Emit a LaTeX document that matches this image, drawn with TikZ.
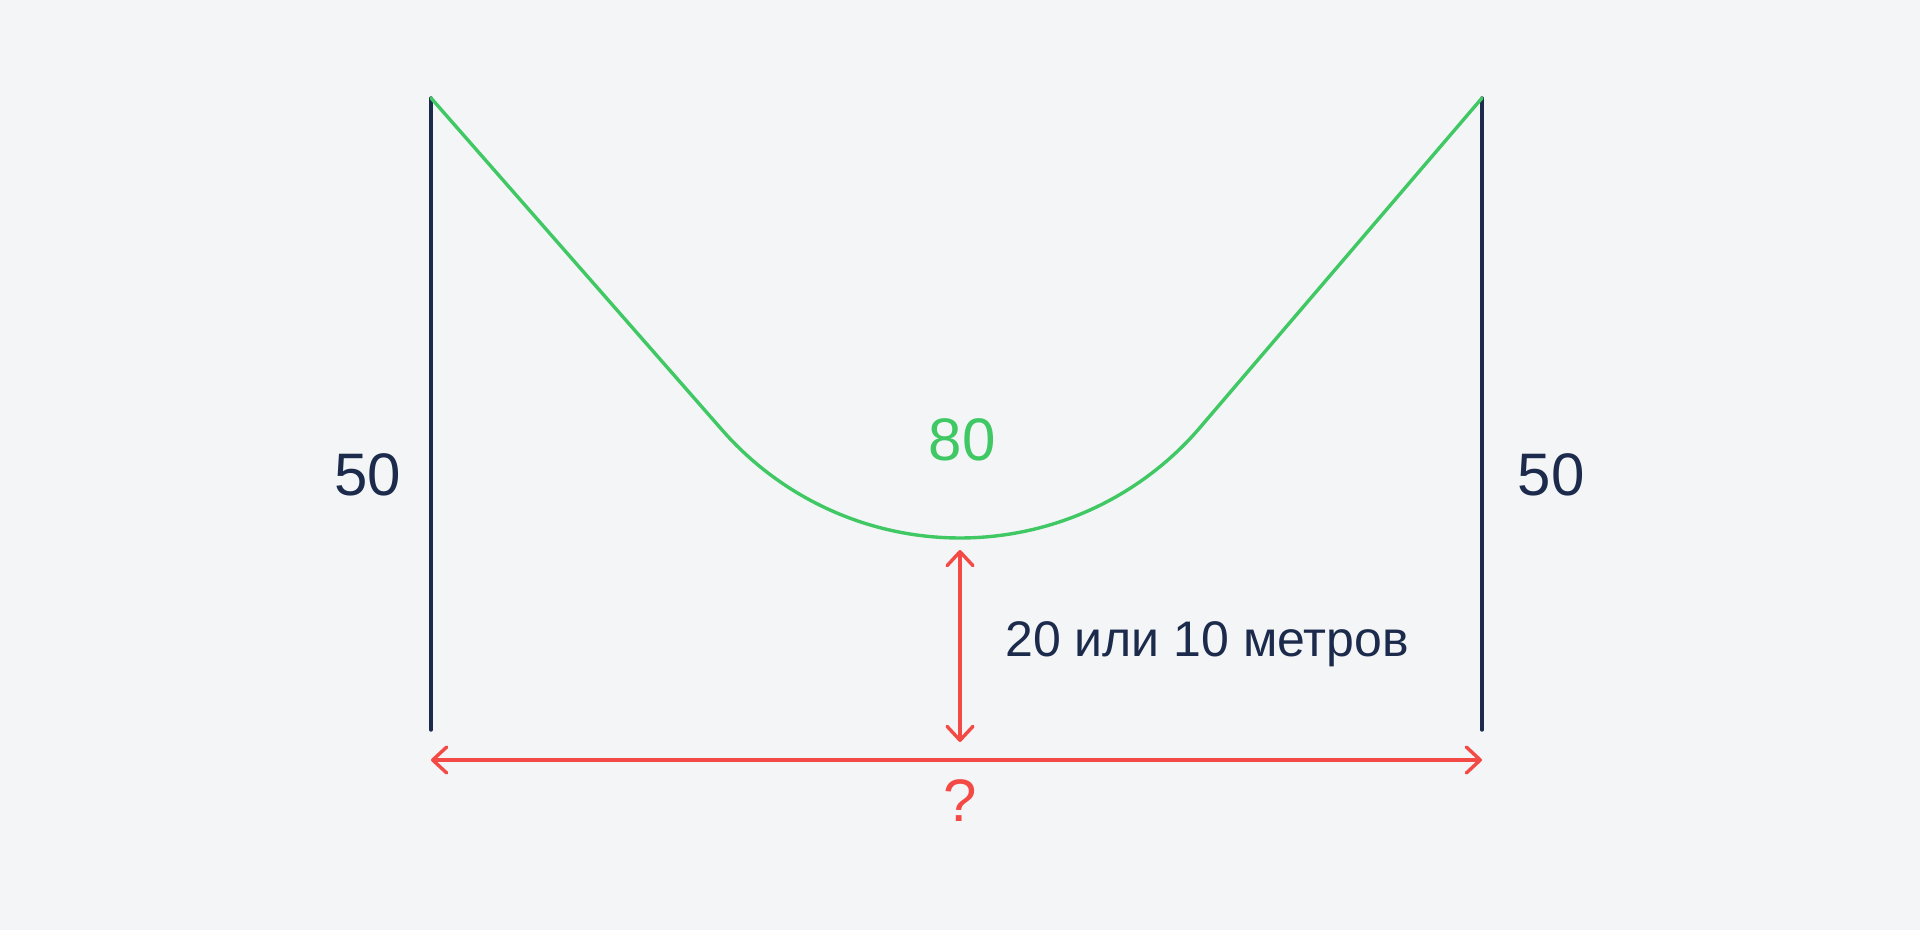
\documentclass[tikz,border=0pt]{standalone}
\usepackage{fontspec}
\setmainfont{Liberation Sans}
\usepackage{tikz}
\usetikzlibrary{positioning}
\usetikzlibrary{calc}
\usetikzlibrary{arrows.meta}

\definecolor{pole}{HTML}{1C2B4C}
\definecolor{rope}{HTML}{3FC864}
\definecolor{dim}{HTML}{F44A45}
\definecolor{bg}{HTML}{F4F5F7}

\tikzset{
  polestyle/.style={draw=pole, line width=1.7pt, line cap=round},
  ropestyle/.style={draw=rope, line width=1.7pt, line cap=round, line join=round},
  dimstyle/.style={draw=dim, line width=1.7pt, line cap=round,
    {Straight Barb[length=7pt,width=13pt,round]}-{Straight Barb[length=7pt,width=13pt,round]}},
  bigtext/.style={font=\fontsize{30}{36}\selectfont, inner sep=0pt},
  smalltext/.style={font=\fontsize{25}{30}\selectfont, inner sep=0pt, text=pole}
}

\begin{document}
\begin{tikzpicture}[x=0.5pt, y=0.5pt]
\fill[bg] (0,0) rectangle (1920,-930);
\useasboundingbox (0,0) rectangle (1920,-930);

\coordinate (lt) at (431,-98);
\coordinate (lb) at (431,-730);
\coordinate (rt) at (1482,-98);
\coordinate (rb) at (1482,-730);
\coordinate (bc) at (960,-222);
\coordinate (hl) at (431,-760);
\coordinate (hr) at (1482,-760);
\coordinate (vt) at (960,-550);
\coordinate (vb) at (960,-742);

% poles
\draw[polestyle] (lt) -- (lb);
\draw[polestyle] (rt) -- (rb);

% rope
\draw[ropestyle] (lt) -- ($(bc)+(221.2:316)$) arc[start angle=221.2, end angle=318.8, radius=316] -- (rt);

% dimensions
\draw[dimstyle] (hl) -- (hr);
\draw[dimstyle] (vt) -- (vb);

\node[bigtext, text=pole] (hleft) at (368,-475) {50};
\node[bigtext, text=pole] (hright) at (1551,-475) {50};
\node[bigtext, text=rope] (len) at (962,-440) {80};
\node[bigtext, text=dim] (dist) at (960,-801) {?};
\node[smalltext, anchor=base west] (gap) at (1005,-656) {20 или 10 метров};
\end{tikzpicture}
\end{document}
